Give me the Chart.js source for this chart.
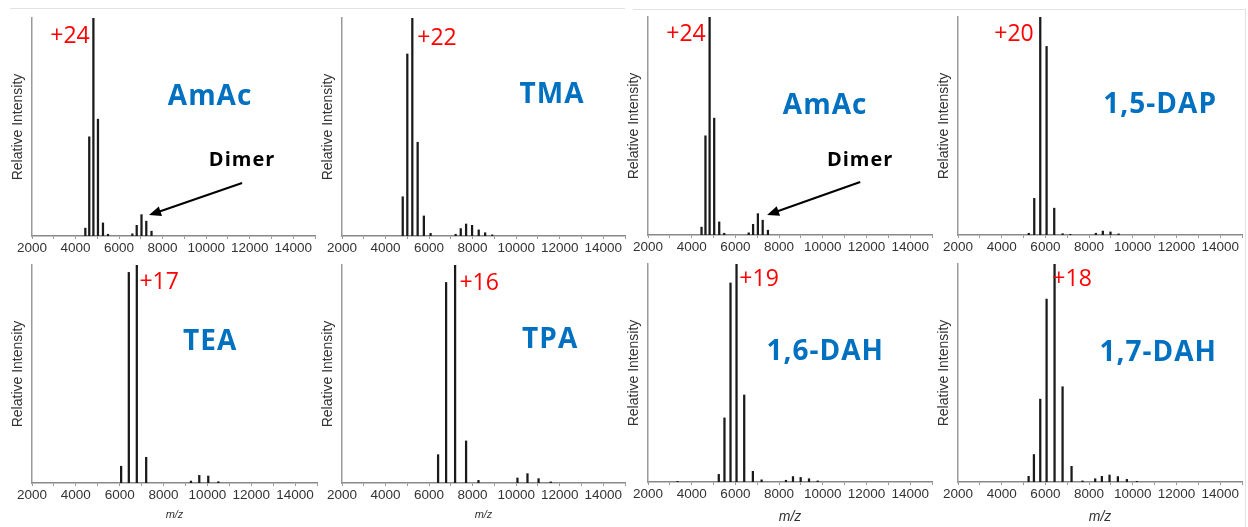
<!DOCTYPE html>
<html>
<head>
<meta charset="utf-8">
<script src="https://cdn.jsdelivr.net/npm/chart.js@4.4.1/dist/chart.umd.min.js"></script>
<style>
  body { margin: 0; background: #fff; width: 1248px; height: 527px; position: relative; overflow: hidden; }
  canvas { position: absolute; }
  .frame { position: absolute; background: #e2e2e2; }
</style>
</head>
<body>
<div class="frame" style="left:10px;top:8px;width:615px;height:1px"></div>
<div class="frame" style="left:633px;top:9px;width:612px;height:1px"></div>
<div class="frame" style="left:1245px;top:9px;width:1px;height:518px"></div>
<canvas id="c1" width="320" height="260" style="left:0;top:0"></canvas>
<canvas id="c2" width="320" height="260" style="left:310px;top:0"></canvas>
<canvas id="c3" width="320" height="260" style="left:616px;top:0"></canvas>
<canvas id="c4" width="320" height="260" style="left:926px;top:0"></canvas>
<canvas id="c5" width="320" height="272" style="left:0;top:255px"></canvas>
<canvas id="c6" width="320" height="272" style="left:310px;top:255px"></canvas>
<canvas id="c7" width="320" height="272" style="left:616px;top:255px"></canvas>
<canvas id="c8" width="320" height="272" style="left:926px;top:255px"></canvas>
<script>
// m/z axis tick labels
const mzTicks = [2000, 4000, 6000, 8000, 10000, 12000, 14000];

// peak positions (m/z) and relative intensities (%)
const amacMz  = [4450, 4630, 4820, 5030, 5260, 5490, 6610, 6810, 7030, 7250, 7490];
const amacInt = [3.6, 45.5, 100, 53.6, 6.0, 0.8, 1.0, 4.9, 9.8, 6.8, 2.2];

const tmaMz  = [4790, 5000, 5230, 5475, 5760, 6070, 7220, 7455, 7700, 7975, 8280, 8575, 8900];
const tmaInt = [18, 83.5, 100, 43, 9.2, 1.2, 0.8, 3.4, 5.5, 4.9, 2.8, 1.5, 0.5];

const dapMz  = [5240, 5490, 5765, 6055, 6405, 6790, 7140, 8310, 8630, 8980, 9350];
const dapInt = [0.8, 16.8, 100, 86.5, 12.3, 0.6, 0.3, 0.8, 1.8, 1.4, 0.5];

const teaMz  = [6066, 6416, 6781, 7208, 9250, 9630, 10040, 10500];
const teaInt = [7.7, 96.6, 100, 11.8, 0.9, 3.5, 3.2, 0.6];

const tpaMz  = [6414, 6782, 7195, 7700, 8270, 10060, 10520, 11030, 11590];
const tpaInt = [13, 92, 100, 19.3, 1.2, 2.3, 4.3, 2.0, 0.5];

const dah6Mz  = [3350, 5240, 5500, 5777, 6052, 6404, 6801, 7200, 8315, 8636, 8988, 9370, 9770];
const dah6Int = [0.3, 3.5, 29.4, 91.3, 100, 39.9, 4.9, 1.0, 0.8, 2.5, 2.1, 1.5, 0.5];

const dah7Mz  = [5232, 5475, 5765, 6055, 6420, 6787, 7198, 7700, 8280, 8585, 8936, 9317, 9730, 10190];
const dah7Int = [2.6, 12.6, 38, 83.9, 100, 43.7, 7.2, 0.5, 1.5, 2.6, 3.2, 2.5, 1.2, 0.3];

const BLUE = '#0070C0';
const RED = '#FF0000';

// draws the labels and the arrow, placed in data coordinates
const notesPlugin = {
  id: 'notes',
  afterDatasetsDraw(chart, args, opts) {
    const { ctx, scales: { x, y } } = chart;
    ctx.save();
    (opts.items || []).forEach(n => {
      if (n.arrow) {
        const x1 = x.getPixelForValue(n.arrow[0]), y1 = y.getPixelForValue(n.arrow[1]);
        const x2 = x.getPixelForValue(n.arrow[2]), y2 = y.getPixelForValue(n.arrow[3]);
        const a = Math.atan2(y2 - y1, x2 - x1);
        const hl = 12, hw = 5;
        ctx.strokeStyle = '#000';
        ctx.lineWidth = 2;
        ctx.beginPath();
        ctx.moveTo(x1, y1);
        ctx.lineTo(x2 - Math.cos(a) * hl * 0.8, y2 - Math.sin(a) * hl * 0.8);
        ctx.stroke();
        ctx.fillStyle = '#000';
        ctx.beginPath();
        ctx.moveTo(x2, y2);
        ctx.lineTo(x2 - Math.cos(a) * hl - Math.sin(a) * hw, y2 - Math.sin(a) * hl + Math.cos(a) * hw);
        ctx.lineTo(x2 - Math.cos(a) * hl + Math.sin(a) * hw, y2 - Math.sin(a) * hl - Math.cos(a) * hw);
        ctx.closePath();
        ctx.fill();
        return;
      }
      ctx.font = n.font;
      ctx.fillStyle = n.color;
      ctx.letterSpacing = n.ls || '0px';
      ctx.textAlign = 'center';
      ctx.textBaseline = 'middle';
      ctx.fillText(n.text, x.getPixelForValue(n.at[0]), y.getPixelForValue(n.at[1]));
    });
    ctx.restore();
  }
};

function nameNote(text, at) {
  return { text, at, font: 'bold 28px "Open Sans"', color: BLUE, ls: '1px' };
}
function chargeNote(text, at) {
  return { text, at, font: '23px "Open Sans"', color: RED };
}

function spectrum(id, mz, ints, box, notes) {
  new Chart(document.getElementById(id), {
    type: 'bar',
    data: {
      datasets: [{
        data: mz.map((m, i) => ({ x: m, y: ints[i] })),
        backgroundColor: '#1a1a1a',
        barThickness: 1.6
      }]
    },
    plugins: [notesPlugin],
    options: {
      responsive: false,
      animation: false,
      events: [],
      layout: { padding: { top: box.padT, right: box.padR, left: 0, bottom: 0 } },
      plugins: {
        legend: { display: false },
        tooltip: { enabled: false },
        notes: { items: notes }
      },
      scales: {
        x: {
          type: 'linear',
          offset: false,
          min: 2000,
          max: 15000,
          afterFit: s => { s.height = box.axisH; },
          grid: { drawOnChartArea: false, offset: false, tickLength: 3, color: '#999' },
          border: { color: '#888', width: 1.5 },
          ticks: {
            stepSize: 1000,
            autoSkip: false,
            maxRotation: 0,
            includeBounds: false,
            padding: 1,
            color: '#333',
            font: { family: '"Liberation Sans", Arial', size: 13.5 },
            callback: v => mzTicks.includes(v) ? String(v) : ''
          },
          title: {
            display: !!box.mzSize,
            text: 'm/z',
            color: '#333',
            padding: { top: 0, bottom: box.mzPad || 0 },
            font: { family: '"Liberation Sans", Arial', size: box.mzSize || 11, style: 'italic' }
          }
        },
        y: {
          min: 0,
          max: 100,
          afterFit: s => { s.width = 32; },
          grid: { display: false },
          border: { color: '#999', width: 1.5 },
          ticks: { display: false },
          title: {
            display: true,
            text: 'Relative Intensity',
            color: '#333',
            padding: { top: 10, bottom: 0 },
            font: { family: '"Liberation Sans", Arial', size: 14 }
          }
        }
      }
    }
  });
}

const dimerText = { font: 'bold 20px "Open Sans"', color: '#000', ls: '1px' };

spectrum('c1', amacMz, amacInt, { padT: 18, padR: 5, axisH: 24 }, [
  chargeNote('+24', [3746, 91.7]),
  nameNote('AmAc', [10180, 63.8]),
  Object.assign({ text: 'Dimer', at: [11650, 34.9] }, dimerText),
  { arrow: [11650, 24.3, 7377, 9.6] }
]);
spectrum('c2', tmaMz, tmaInt, { padT: 18, padR: 5, axisH: 24 }, [
  chargeNote('+22', [6366, 90.4]),
  nameNote('TMA', [11650, 64.7])
]);
spectrum('c3', amacMz, amacInt, { padT: 17, padR: 4, axisH: 25 }, [
  chargeNote('+24', [3741, 92.2]),
  nameNote('AmAc', [10108, 59.2]),
  Object.assign({ text: 'Dimer', at: [11712, 34.4] }, dimerText),
  { arrow: [11712, 24.3, 7451, 9.2] }
]);
spectrum('c4', dapMz, dapInt, { padT: 17, padR: 4, axisH: 25 }, [
  chargeNote('+20', [4565, 92.2]),
  nameNote('1,5-DAP', [11253, 59.6])
]);
spectrum('c5', teaMz, teaInt, { padT: 10, padR: 3, axisH: 44, mzSize: 11, mzPad: 5 }, [
  chargeNote('+17', [7799, 92.2]),
  nameNote('TEA', [10128, 64.7])
]);
spectrum('c6', tpaMz, tpaInt, { padT: 10, padR: 5, axisH: 44, mzSize: 11, mzPad: 5 }, [
  chargeNote('+16', [8299, 91.7]),
  nameNote('TPA', [11563, 65.6])
]);
spectrum('c7', dah6Mz, dah6Int, { padT: 9, padR: 4, axisH: 45, mzSize: 14, mzPad: 1 }, [
  chargeNote('+19', [7085, 92.7]),
  nameNote('1,6-DAH', [10108, 59.6])
]);
spectrum('c8', dah7Mz, dah7Int, { padT: 9, padR: 4, axisH: 45, mzSize: 14, mzPad: 1 }, [
  chargeNote('+18', [7222, 92.7]),
  nameNote('1,7-DAH', [11162, 59.2])
]);
</script>
</body>
</html>
